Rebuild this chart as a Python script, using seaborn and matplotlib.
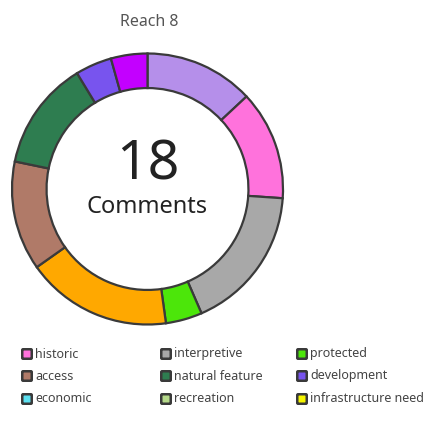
import matplotlib
matplotlib.use("Agg")
import matplotlib.pyplot as plt
from matplotlib.patches import FancyBboxPatch
import seaborn as sns

sns.set_theme(style="white")
plt.rcParams['font.family'] = ['Noto Sans', 'DejaVu Sans']

# Donut segments (clockwise from 12 o'clock)
segment_labels = ["other (lavender)", "historic", "interpretive", "protected", "other (orange)",
                  "access", "natural feature", "development", "other (magenta)"]
segment_values = [3, 3, 4, 1, 4, 3, 3, 1, 1]
segment_colors = ["#b58fea", "#ff72dc", "#a8a8a8", "#4ce60a", "#ffa800",
                  "#b07a68", "#2e7d50", "#7854ee", "#c300ff"]

total_comments = 18
title = "Reach 8"

# Legend (row-wise as shown)
legend_labels = ["historic", "interpretive", "protected",
                 "access", "natural feature", "development",
                 "economic", "recreation", "infrastructure need"]
legend_colors = ["#ff72dc", "#a8a8a8", "#4ce60a",
                 "#b07a68", "#2e7d50", "#7854ee",
                 "#5ce0f0", "#b5d98a", "#f5f500"]

W, H = 429, 425
fig = plt.figure(figsize=(W / 100, H / 100), dpi=100)
fig.patch.set_facecolor("white")

cx, cy, r = 147.5, 189, 135.5
ax = fig.add_axes([(cx - r) / W, (H - cy - r) / H, 2 * r / W, 2 * r / H])
ax.pie(segment_values, colors=segment_colors, startangle=90, counterclock=False,
       radius=1.0,
       wedgeprops=dict(width=0.255, edgecolor="#3a3a3a", linewidth=1.6))
ax.set_xlim(-1, 1)
ax.set_ylim(-1, 1)
ax.set_aspect("equal")
ax.axis("off")

ax.text(0, 0.175, str(total_comments), ha="center", va="center",
        fontsize=40, color="#222222")
ax.text(0, -0.135, "Comments", ha="center", va="center",
        fontsize=17, color="#222222")

fig.text(149 / W, 1 - 22 / H, title, ha="center", va="center",
         fontsize=11.5, color="#555555")

col_x = [27, 166, 302]
row_y = [354, 376, 399]
sq = 9.5
for i, (lab, colr) in enumerate(zip(legend_labels, legend_colors)):
    rr, cc = divmod(i, 3)
    x0, y0 = col_x[cc], row_y[rr]
    p = FancyBboxPatch(((x0 - sq / 2) / W, 1 - (y0 + sq / 2) / H), sq / W, sq / H,
                       boxstyle="round,pad=0,rounding_size=0.002",
                       transform=fig.transFigure, facecolor=colr,
                       edgecolor="#3a3a3a", linewidth=1.8)
    fig.patches.append(p)
    fig.text((x0 + 8) / W, 1 - y0 / H, lab, ha="left", va="center",
             fontsize=9, color="#444444")

fig.savefig("out.png", dpi=100, facecolor="white")
